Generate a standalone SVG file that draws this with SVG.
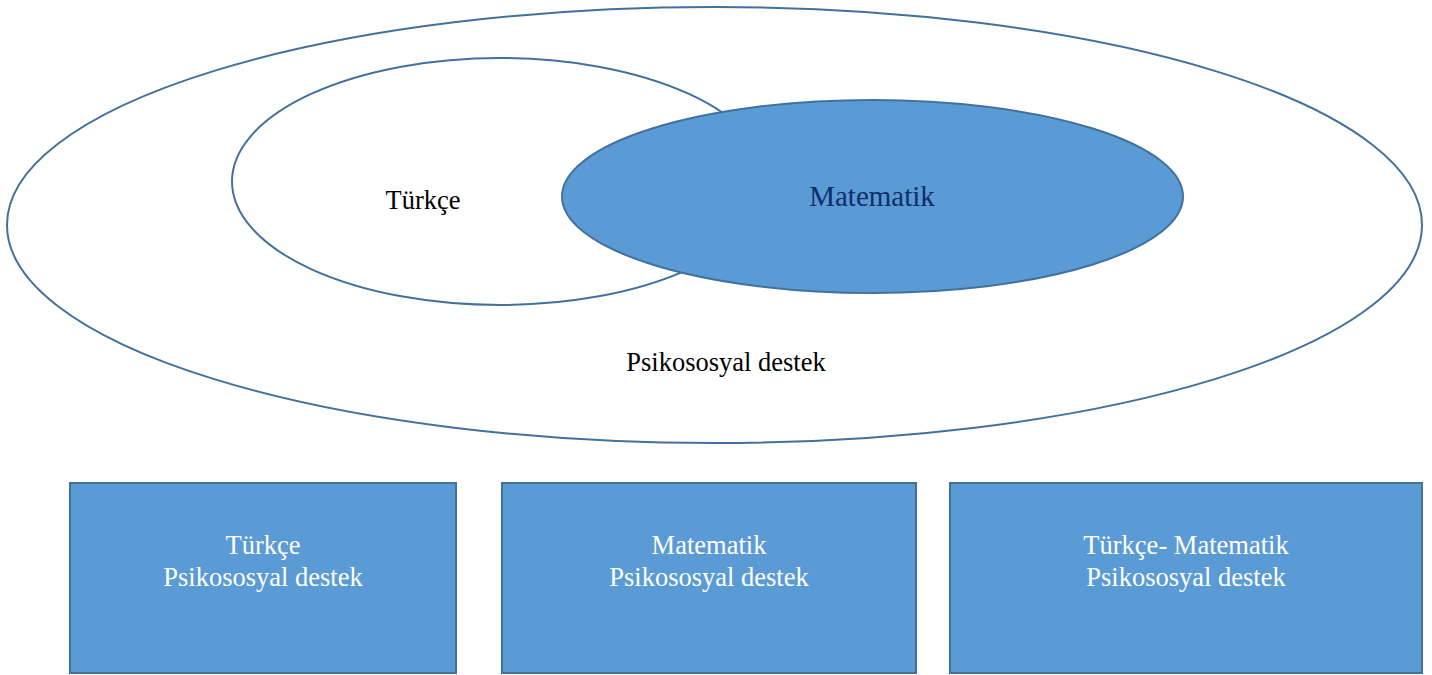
<svg xmlns="http://www.w3.org/2000/svg" width="1432" height="675" viewBox="0 0 1432 675">
<style>
.ol{fill:#ffffff;stroke:#41719C;stroke-width:2}
.bl{fill:#5B9BD5;stroke:#41719C;stroke-width:2}
.t{font-family:"Liberation Serif","Times New Roman",serif;font-size:26.5px;text-anchor:middle}
.w{fill:#ffffff}
</style>
<rect width="1432" height="675" fill="#ffffff"/>
<g id="outer">
<ellipse class="ol" cx="714.5" cy="225" rx="707.5" ry="218"/>
<text class="t" x="726" y="371" fill="#000000">Psikososyal destek</text>
</g>
<g id="turkce">
<ellipse class="ol" cx="500" cy="181.5" rx="268" ry="123.5"/>
<text class="t" x="423" y="209" fill="#000000">Türkçe</text>
</g>
<g id="matematik">
<ellipse class="bl" cx="872.5" cy="196.5" rx="310.5" ry="96.5"/>
<text class="t" x="872" y="206" fill="#0E2D6B" style="font-size:29px">Matematik</text>
</g>
<g id="box1">
<rect class="bl" x="70" y="483" width="386" height="190"/>
<text class="t w" x="263" y="554">Türkçe</text>
<text class="t w" x="263" y="586">Psikososyal destek</text>
</g>
<g id="box2">
<rect class="bl" x="502" y="483" width="414" height="190"/>
<text class="t w" x="709" y="554">Matematik</text>
<text class="t w" x="709" y="586">Psikososyal destek</text>
</g>
<g id="box3">
<rect class="bl" x="950" y="483" width="472" height="190"/>
<text class="t w" x="1186" y="554">Türkçe- Matematik</text>
<text class="t w" x="1186" y="586">Psikososyal destek</text>
</g>
<g id="connectors"></g>
</svg>
